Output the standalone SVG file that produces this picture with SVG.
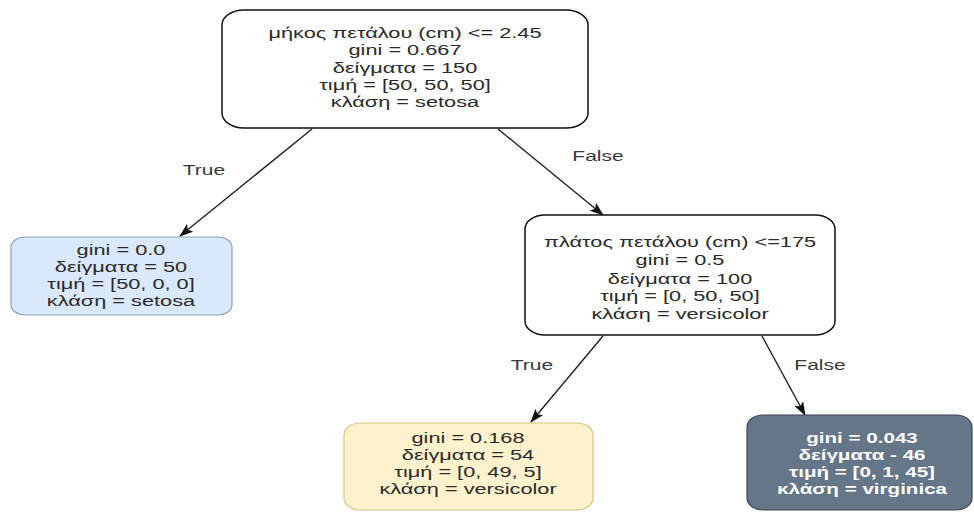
<svg xmlns="http://www.w3.org/2000/svg" width="974" height="515" viewBox="0 0 974 515">
  <defs>
    <marker id="arrow" viewBox="0 0 14 10" refX="13" refY="5" markerWidth="14" markerHeight="10" markerUnits="userSpaceOnUse" orient="auto">
      <path d="M0,0 L14,5 L0,10 L3,5 Z" fill="#111"/>
    </marker>
  </defs>
  <style>
    text { font-family: "Liberation Sans", Arial, sans-serif; font-size: 14.5px; fill: #2a2a2a; text-anchor: middle; }
    .edge { stroke: #222; stroke-width: 1.4; fill: none; marker-end: url(#arrow); }
    .lbl { fill: #3a3a3a; }
    .plain { fill: #fff; stroke: #111; stroke-width: 1.5; }
    .blue { fill: #dae8fc; stroke: #8a9fb8; stroke-width: 1.2; }
    .yellow { fill: #fff2cc; stroke: #d8c388; stroke-width: 1.2; }
    .dark { fill: #647687; stroke: #3c4a58; stroke-width: 1.2; }
    .dark-text { fill: #fff; font-weight: bold; }
  </style>
  <rect width="974" height="515" fill="#fff"/>

  <g id="connectors">
    <line class="edge" x1="312" y1="129" x2="180" y2="236"/>
    <line class="edge" x1="498" y1="129" x2="603" y2="215"/>
    <line class="edge" x1="603" y1="336" x2="531" y2="422"/>
    <line class="edge" x1="762" y1="336" x2="805" y2="415"/>
    <g transform="translate(204,175) scale(1.45,1)"><text class="lbl">True</text></g>
    <g transform="translate(598,161) scale(1.45,1)"><text class="lbl">False</text></g>
    <g transform="translate(532,370) scale(1.45,1)"><text class="lbl">True</text></g>
    <g transform="translate(820,370) scale(1.45,1)"><text class="lbl">False</text></g>
  </g>

  <g id="root">
    <rect class="plain" x="222" y="10" width="366" height="118" rx="22" ry="15"/>
    <g transform="translate(405,0) scale(1.5,1)">
      <text y="38">μήκος πετάλου (cm) &lt;= 2.45</text>
      <text y="55">gini = 0.667</text>
      <text y="73">δείγματα = 150</text>
      <text y="90">τιμή = [50, 50, 50]</text>
      <text y="107">κλάση = setosa</text>
    </g>
  </g>

  <g id="setosa">
    <rect class="blue" x="11" y="237" width="221" height="78" rx="14" ry="10"/>
    <g transform="translate(121,0) scale(1.5,1)">
      <text y="255">gini = 0.0</text>
      <text y="272">δείγματα = 50</text>
      <text y="289">τιμή = [50, 0, 0]</text>
      <text y="306">κλάση = setosa</text>
    </g>
  </g>

  <g id="split">
    <rect class="plain" x="525" y="215" width="310" height="120" rx="20" ry="14"/>
    <g transform="translate(680,0) scale(1.5,1)">
      <text y="247">πλάτος πετάλου (cm) &lt;=175</text>
      <text y="265">gini = 0.5</text>
      <text y="284">δείγματα = 100</text>
      <text y="301">τιμή = [0, 50, 50]</text>
      <text y="319">κλάση = versicolor</text>
    </g>
  </g>

  <g id="versicolor">
    <rect class="yellow" x="344" y="423" width="249" height="87" rx="16" ry="12"/>
    <g transform="translate(468,0) scale(1.5,1)">
      <text y="443">gini = 0.168</text>
      <text y="460">δείγματα = 54</text>
      <text y="477">τιμή = [0, 49, 5]</text>
      <text y="494">κλάση = versicolor</text>
    </g>
  </g>

  <g id="virginica">
    <rect class="dark" x="747" y="415" width="225" height="95" rx="16" ry="12"/>
    <g transform="translate(862,0) scale(1.42,1)">
      <text class="dark-text" y="443">gini = 0.043</text>
      <text class="dark-text" y="460">δείγματα - 46</text>
      <text class="dark-text" y="477">τιμή = [0, 1, 45]</text>
      <text class="dark-text" y="494">κλάση = virginica</text>
    </g>
  </g>
</svg>
